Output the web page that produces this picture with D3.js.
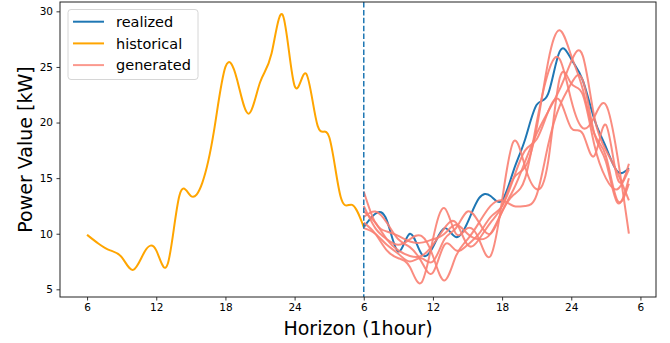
<!DOCTYPE html>
<html>
<head>
<meta charset="utf-8">
<script src="https://cdn.jsdelivr.net/npm/d3@7"></script>
<style>
  body { margin: 0; background: #fff; }
  text { font-family: "DejaVu Sans", sans-serif; fill: #000; }
</style>
</head>
<body>
<svg width="670" height="343"></svg>
<script>
// hour labels for ticks
var tickIdx = [0, 6, 12, 18, 24, 30, 36, 42, 48];
var tickLabels = ["6", "12", "18", "24", "6", "12", "18", "24", "6"];
var yTicks = [5, 10, 15, 20, 25, 30];

// historical: hours 0..24
var historical = [9.9, 9.1, 8.5, 7.9, 6.75, 8.4, 8.5, 7.3, 13.4, 13.4, 14.6, 19.2, 25.0,
  23.9, 20.8, 23.6, 26.2, 29.6, 23.3, 24.4, 19.7, 18.7, 13.3, 12.6, 10.6];

// realized: hours 24..47
var realized = [10.6, 11.8, 11.2, 8.4, 10.0, 8.2, 8.8, 10.5, 9.7, 11.0, 13.2, 13.4,
  13.0, 15.7, 18.5, 21.6, 22.6, 26.4, 25.7, 23.8, 20.3, 17.8, 15.6, 15.9];

// generated samples: hours 24..47
var gen1 = [12.0, 11.0, 9.5, 8.5, 8.0, 8.0, 9.0, 10.5, 11.0, 9.0, 9.5, 11.0,
  12.5, 15.0, 16.0, 19.5, 25.5, 28.3, 26.0, 23.0, 19.0, 17.0, 13.0, 14.5];
var gen2 = [10.5, 10.0, 9.0, 8.2, 7.5, 7.8, 7.5, 9.5, 10.5, 12.0, 11.0, 10.0,
  12.0, 14.0, 16.5, 19.0, 21.0, 23.0, 25.5, 26.0, 20.5, 17.5, 15.5, 13.0];
var gen3 = [13.8, 11.0, 10.2, 9.8, 9.3, 9.2, 9.5, 10.0, 10.8, 10.0, 9.5, 10.0,
  12.0, 13.5, 15.0, 20.0, 24.5, 25.7, 22.0, 19.5, 20.5, 21.6, 17.0, 10.0];
var gen4 = [11.5, 12.0, 11.0, 9.5, 8.8, 7.5, 6.5, 9.0, 8.5, 9.0, 10.0, 11.5,
  12.5, 15.0, 17.5, 18.5, 21.0, 22.0, 19.5, 19.0, 17.0, 19.8, 15.0, 16.3];
var gen5 = [11.0, 10.0, 8.5, 7.8, 7.0, 5.6, 9.5, 12.3, 10.0, 10.5, 9.5, 8.0,
  13.0, 18.3, 16.0, 14.0, 16.5, 24.0, 23.5, 22.5, 18.0, 15.0, 14.0, 15.8];
var gen6 = [12.5, 10.5, 9.5, 9.0, 9.5, 9.8, 8.0, 5.8, 8.0, 9.5, 11.0, 12.5,
  13.0, 12.5, 12.5, 13.5, 18.0, 21.5, 23.5, 23.8, 19.0, 16.5, 12.8, 15.0];
var generated = [gen1, gen2, gen3, gen4, gen5, gen6];

var splitAt = 24;

var config = { w: 670, h: 343, left: 60, right: 656, top: 2, bottom: 297 };

var svg = d3.select("svg");

var x = d3.scaleLinear().domain([-2.35, 49.35]).range([config.left, config.right]);
var y = d3.scaleLinear().domain([4.31, 30.84]).range([config.bottom, config.top]);

var line = d3.line()
  .x(function(d) { return x(d.i); })
  .y(function(d) { return y(d.v); })
  .curve(d3.curveNatural);

function toPts(arr, offset) {
  return arr.map(function(v, i) { return { i: i + offset, v: v }; });
}

var plot = svg.append("g").attr("id", "plot");

// realized
plot.append("path")
  .attr("d", line(toPts(realized, splitAt)))
  .attr("fill", "none").attr("stroke", "#1f77b4").attr("stroke-width", 2);

// historical
plot.append("path")
  .attr("d", line(toPts(historical, 0)))
  .attr("fill", "none").attr("stroke", "#ffa500").attr("stroke-width", 2);

// generated
plot.selectAll("path.gen")
  .data(generated)
  .enter().append("path")
  .attr("class", "gen")
  .attr("d", function(d) { return line(toPts(d, splitAt)); })
  .attr("fill", "none").attr("stroke", "#fa8072").attr("stroke-width", 2)
  .attr("stroke-opacity", 0.9);

// forecast start marker
plot.append("line")
  .attr("x1", x(splitAt)).attr("x2", x(splitAt))
  .attr("y1", config.top).attr("y2", config.bottom)
  .attr("stroke", "#1f77b4").attr("stroke-width", 1.5)
  .attr("stroke-dasharray", "5.5,2.4");

// axes
var xAxis = d3.axisBottom(x).tickValues(tickIdx).tickSize(3.5).tickPadding(3.5)
  .tickFormat(function(d, i) { return tickLabels[i]; });
var yAxis = d3.axisLeft(y).tickValues(yTicks).tickSize(3.5).tickPadding(3.5);

var gx = svg.append("g").attr("transform", "translate(0," + config.bottom + ")").call(xAxis);
var gy = svg.append("g").attr("transform", "translate(" + config.left + ",0)").call(yAxis);
[gx, gy].forEach(function(g) {
  g.select(".domain").remove();
  g.selectAll("text").style("font-size", "10.5px").style("font-family", "DejaVu Sans");
  g.selectAll("line").attr("stroke", "#000").attr("stroke-width", 0.8);
});

// frame
svg.append("rect")
  .attr("x", config.left).attr("y", config.top)
  .attr("width", config.right - config.left).attr("height", config.bottom - config.top)
  .attr("fill", "none").attr("stroke", "#222").attr("stroke-width", 1);

// axis labels
svg.append("text")
  .attr("x", (config.left + config.right) / 2).attr("y", 335)
  .attr("text-anchor", "middle").style("font-size", "19px")
  .text("Horizon (1hour)");

svg.append("text")
  .attr("transform", "translate(32," + ((config.top + config.bottom) / 2) + ") rotate(-90)")
  .attr("text-anchor", "middle").style("font-size", "19px")
  .text("Power Value [kW]");

// legend
var legendItems = [
  { name: "realized", color: "#1f77b4", op: 1 },
  { name: "historical", color: "#ffa500", op: 1 },
  { name: "generated", color: "#fa8072", op: 0.8 }
];
var leg = svg.append("g").attr("id", "legend");
leg.append("rect")
  .attr("x", 68).attr("y", 9.5).attr("width", 130).attr("height", 70)
  .attr("rx", 3).attr("fill", "#fff").attr("fill-opacity", 0.8)
  .attr("stroke", "#d6d6d6").attr("stroke-width", 1);
var li = leg.selectAll("g.item").data(legendItems).enter().append("g")
  .attr("class", "item")
  .attr("transform", function(d, i) { return "translate(0," + (21.7 + 21.7 * i) + ")"; });
li.append("line")
  .attr("x1", 73).attr("x2", 104).attr("y1", 0).attr("y2", 0)
  .attr("stroke", function(d) { return d.color; })
  .attr("stroke-opacity", function(d) { return d.op; })
  .attr("stroke-width", 2);
li.append("text")
  .attr("x", 116).attr("y", 5.3)
  .style("font-size", "14.5px")
  .text(function(d) { return d.name; });
</script>
</body>
</html>
